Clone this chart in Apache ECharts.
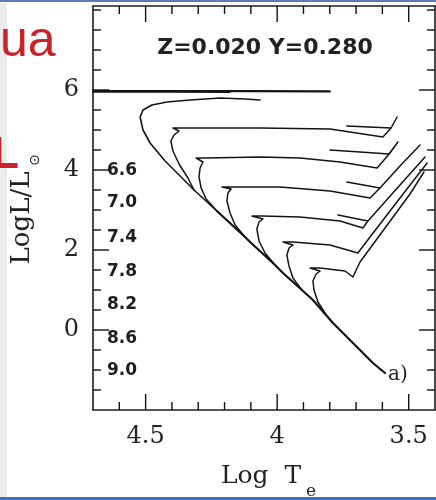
<!DOCTYPE html>
<html><head><meta charset="utf-8">
<script src="https://cdn.jsdelivr.net/npm/echarts@6/dist/echarts.min.js"></script>
<style>html,body{margin:0;padding:0;background:#fff}#c{width:436px;height:500px}</style>
</head><body><div id="c"></div>
<script>
// ---- tick labels / tick positions ----
const xTicksMajor = [3.5, 4, 4.5];
const yTicksMajor = [0, 2, 4, 6];
const xTicksMinor = [3.6,3.7,3.8,3.9,4.1,4.2,4.3,4.4,4.6];
const yTicksMinor = [-1.5,-1,-0.5,0.5,1,1.5,2.5,3,3.5,4.5,5,5.5,6.5,7,7.5,8];
// ---- isochrone age labels (log age) and their L levels ----
const ageLabels = ['6.6', '7.0', '7.4', '7.8', '8.2', '8.6', '9.0'];
const ageLabelL = [3.975, 3.175, 2.30, 1.45, 0.625, -0.225, -1.025];
const ageLabelT = 4.647;
// ---- isochrones [logTe, logL/Lsun] ----
const mainSeq = [[3.590,-1.075],[3.636,-0.825],[3.712,-0.325],[3.788,0.175],[3.811,0.35],[3.864,0.75],[3.906,1.00],[3.978,1.425],[4.008,1.625],[4.103,2.20],[4.122,2.325],[4.229,2.975]];
const iso0 = [[4.70,5.975],[4.40,5.975],[4.10,5.97],[3.80,5.965]];
const iso0b = [[4.70,5.955],[4.40,5.955],[4.18,5.945]];
const iso1 = [[4.229,2.975],[4.316,3.50],[4.331,3.60],[4.426,4.225],[4.483,4.675],[4.510,5.00],[4.521,5.325],[4.510,5.50],[4.476,5.625],[4.419,5.70],[4.331,5.75],[4.217,5.80],[4.122,5.775],[4.065,5.75]];
const iso2 = [[4.316,3.50],[4.339,3.80],[4.373,4.15],[4.396,4.475],[4.404,4.725],[4.392,4.875],[4.373,4.975],[4.396,5.05],[4.331,5.05],[4.065,5.05],[3.799,5.025],[3.598,4.825],[3.567,5.05],[3.544,5.325],[3.567,5.05],[3.735,5.10]];
const iso3 = [[4.229,2.975],[4.270,3.275],[4.289,3.55],[4.297,3.825],[4.293,4.05],[4.282,4.20],[4.308,4.30],[4.274,4.30],[4.065,4.325],[3.913,4.30],[3.761,4.20],[3.620,4.05],[3.571,4.425],[3.541,4.70],[3.575,4.40],[3.685,4.45],[3.799,4.50]];
const iso4 = [[4.122,2.325],[4.160,2.625],[4.179,2.925],[4.191,3.225],[4.187,3.425],[4.175,3.525],[4.210,3.575],[4.172,3.575],[3.989,3.575],[3.799,3.475],[3.647,3.30],[3.609,3.55],[3.735,3.70],[3.609,3.55],[3.533,4.10],[3.457,4.625]];
const iso5 = [[4.008,1.625],[4.046,1.925],[4.069,2.225],[4.077,2.525],[4.069,2.70],[4.054,2.775],[4.096,2.85],[4.058,2.85],[3.913,2.825],[3.761,2.725],[3.674,2.55],[3.655,2.725],[3.769,2.875],[3.655,2.725],[3.533,3.625],[3.438,4.325]];
const iso6 = [[3.906,1.00],[3.940,1.30],[3.955,1.60],[3.963,1.875],[3.955,2.05],[3.940,2.125],[3.978,2.20],[3.940,2.20],[3.799,2.125],[3.693,1.925],[3.647,2.325],[3.533,3.30],[3.430,4.175]];
const iso7 = [[3.811,0.35],[3.845,0.70],[3.860,1.00],[3.864,1.225],[3.852,1.40],[3.837,1.475],[3.875,1.55],[3.837,1.55],[3.742,1.475],[3.712,1.325],[3.685,1.70],[3.590,2.55],[3.495,3.40],[3.442,3.95]];

const X_MIN = 3.4, X_MAX = 4.7, Y_MIN = -2, Y_MAX = 8.1;
const GRID = {left:93, top:6, width:342, height:404};
const ink = '#141414';
const frameColor = '#1e1e1e';
const frame = {show:true, onZero:false, lineStyle:{color:frameColor, width:1.6}};
function xa(extra){ return Object.assign({type:'value', min:X_MIN, max:X_MAX, inverse:true, splitLine:{show:false}, axisLine:frame, axisTick:{show:false}, axisLabel:{show:false}}, extra); }
function ya(extra){ return Object.assign({type:'value', min:Y_MIN, max:Y_MAX, splitLine:{show:false}, axisLine:frame, axisTick:{show:false}, axisLabel:{show:false}}, extra); }

function line(data, w, color){ return {type:'line', data:data, xAxisIndex:0, yAxisIndex:0, showSymbol:false, symbol:'none', silent:true,
  lineStyle:{color:color || ink, width:w, join:'round', cap:'round', opacity:1}}; }

// tick marks (inside ticks on all four sides), each drawn as a short line series; lengths in pixels -> axis units
const pxX = (X_MAX - X_MIN) / GRID.width, pxY = (Y_MAX - Y_MIN) / GRID.height;
function tickLines(xs, ys, lenPx){
  const out = [];
  const add = seg => { const s = line(seg, 1.4, '#111'); s.lineStyle.cap = 'butt'; s.clip = false; s.z = 3; out.push(s); };
  xs.forEach(v => {
    add([[v, Y_MIN], [v, Y_MIN + lenPx*pxY]]);
    add([[v, Y_MAX], [v, Y_MAX - lenPx*pxY]]);
  });
  ys.forEach(v => {
    add([[X_MAX, v], [X_MAX - lenPx*pxX, v]]);
    add([[X_MIN, v], [X_MIN + lenPx*pxX, v]]);
  });
  return out;
}

const chart = echarts.init(document.getElementById('c'), null, {renderer:'canvas'});
chart.setOption({
  animation:false,
  backgroundColor:'#ffffff',
  grid:GRID,
  xAxis:[
    xa({position:'bottom', axisLabel:{show:true, customValues:xTicksMajor, margin:15, fontFamily:'DejaVu Serif', fontSize:24, color:'#222'}}),
    xa({position:'top'})
  ],
  yAxis:[
    ya({position:'left', axisLabel:{show:true, customValues:yTicksMajor, margin:14, fontFamily:'DejaVu Serif', fontSize:24, color:'#222'}}),
    ya({position:'right'})
  ],
  series:[].concat(
    tickLines(xTicksMinor, yTicksMinor, 8),
    tickLines(xTicksMajor, yTicksMajor, 16),
    [
    line(mainSeq, 2.2),
    line(iso0, 2.2), line(iso0b, 1.8),
    line(iso1, 1.6), line(iso2, 1.5), line(iso3, 1.5), line(iso4, 1.5),
    line(iso5, 1.5), line(iso6, 1.5), line(iso7, 1.5),
    {type:'scatter', xAxisIndex:0, yAxisIndex:0, symbolSize:0, silent:true, itemStyle:{opacity:1},
     data: ageLabels.map((t,i)=>({name:t, value:[ageLabelT, ageLabelL[i]]})),
     label:{show:true, position:'right', distance:0, formatter:p=>p.name, opacity:1,
            fontFamily:'DejaVu Sans', fontWeight:'bold', fontSize:17, color:'#1e1e1e'}}
    ]),
  graphic:[
    {type:'rect', z:0, shape:{x:0, y:3, width:7, height:494}, style:{fill:'#ececec'}},
    {type:'rect', z:10, shape:{x:0, y:0, width:436, height:2}, style:{fill:'#5b7db1'}},
    {type:'rect', z:10, shape:{x:0, y:497, width:436, height:3}, style:{fill:'#3f6fb6'}},
    {type:'text', z:10, x:0, y:42, style:{text:'ua', font:'50px "Liberation Sans"', fill:'#c9222a', align:'left', verticalAlign:'middle'}},
    {type:'text', z:10, x:-8, y:156, style:{text:'L', font:'bold 44px "Liberation Sans"', fill:'#c9222a', align:'left', verticalAlign:'middle'}},
    {type:'text', z:10, x:265, y:48, style:{text:'Z=0.020 Y=0.280', font:'bold 22px "DejaVu Sans"', fill:'#222', align:'center', verticalAlign:'middle'}},
    {type:'text', z:10, x:388, y:375, style:{text:'a)', font:'20px "DejaVu Serif"', fill:'#222', align:'left', verticalAlign:'middle'}},
    {type:'text', z:10, x:261, y:476, style:{text:'Log  T', font:'25px "DejaVu Serif"', fill:'#222', align:'center', verticalAlign:'middle'}},
    {type:'text', z:10, x:311, y:492, style:{text:'e', font:'17px "DejaVu Serif"', fill:'#222', align:'center', verticalAlign:'middle'}},
    {type:'text', z:10, x:22, y:218, rotation:Math.PI/2, style:{text:'LogL/L', font:'26px "DejaVu Serif"', fill:'#222', align:'center', verticalAlign:'middle'}},
    {type:'text', z:10, x:35, y:160, rotation:Math.PI/2, style:{text:'\u2299', font:'14px "DejaVu Sans"', fill:'#222', align:'center', verticalAlign:'middle'}}
  ]
});
</script></body></html>
